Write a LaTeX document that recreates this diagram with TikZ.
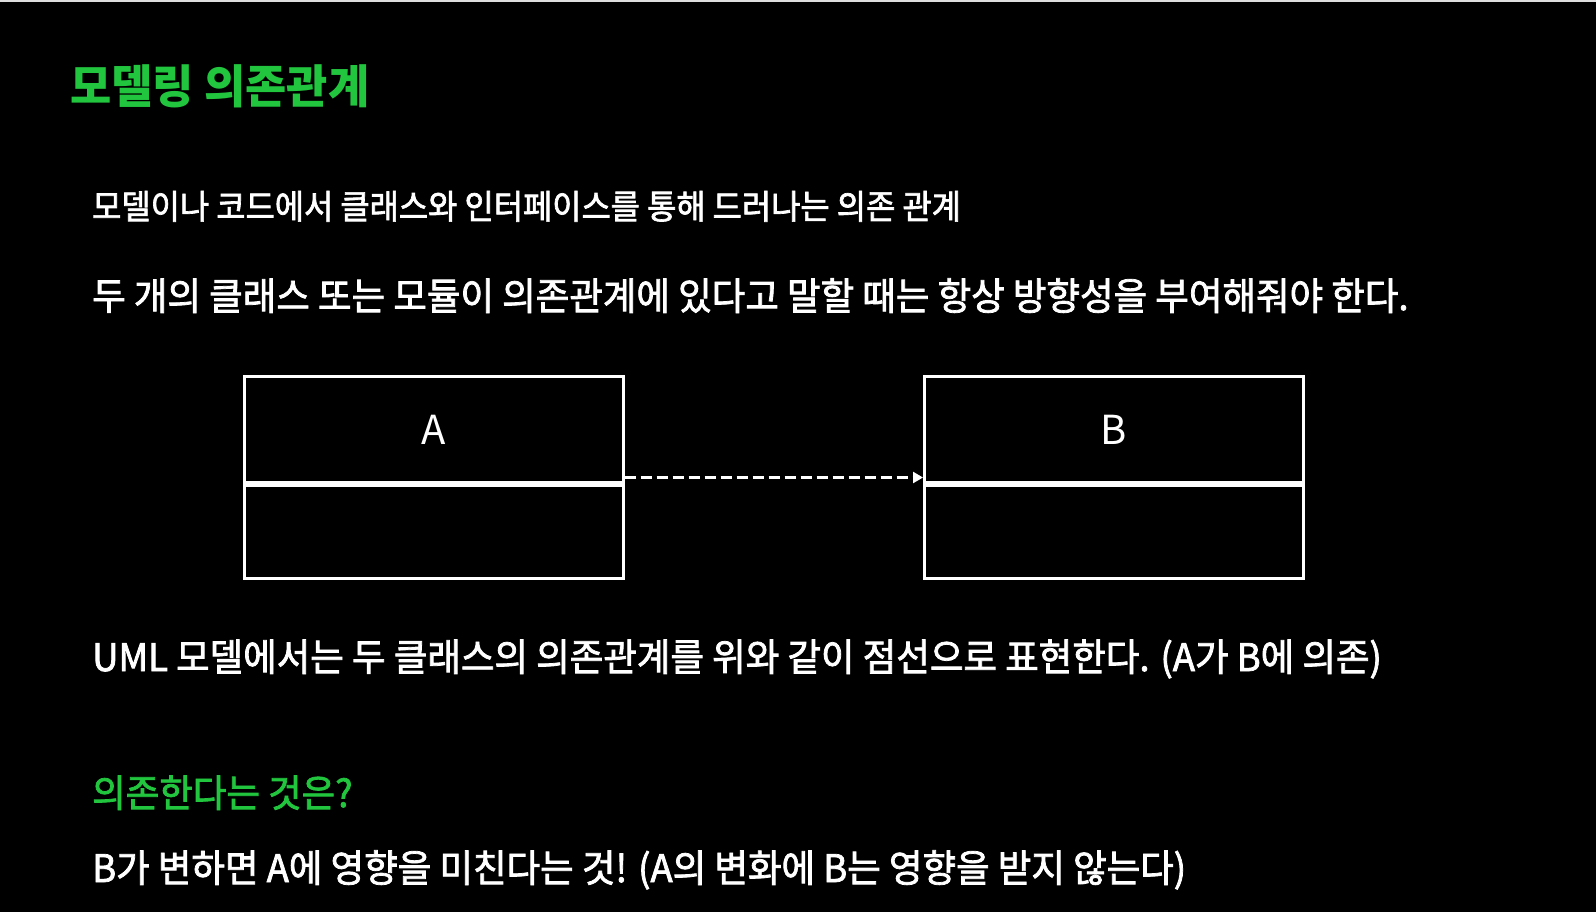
\documentclass[tikz,border=0pt]{standalone}
\usepackage{fontspec}
\setmainfont{Noto Sans CJK KR}
\newfontfamily\bodyfont[FakeStretch=0.96,FakeBold=2]{Noto Sans CJK KR}
\newfontfamily\smallbodyfont[FakeStretch=0.935,FakeBold=2]{Noto Sans CJK KR}
\newfontfamily\titlefont[FakeStretch=0.975]{Noto Sans CJK KR}
\usetikzlibrary{arrows.meta}
\definecolor{slidegreen}{RGB}{34,197,62}
\definecolor{topgray}{RGB}{222,222,222}
\tikzset{
  txt/.style={anchor=base west, inner sep=0pt, text=white},
  classbox/.style={draw=white, line width=3pt, minimum width=379pt, inner sep=0pt, text=white},
  dep/.style={draw=white, line width=3pt, dash pattern=on 11pt off 5pt, -{Triangle[length=10pt,width=11pt]}}
}
\begin{document}
\begin{tikzpicture}[x=1pt,y=-1pt]
\fill[black] (0,0) rectangle (1596,912);
\useasboundingbox (0,0) rectangle (1596,912);
\fill[topgray] (0,0) rectangle (1596,2);

\node[txt, text=slidegreen] (title) at (70,104) {\titlefont\bfseries\fontsize{46pt}{50pt}\selectfont 모델링 의존관계};
\node[txt] (l1) at (92,219) {\smallbodyfont\fontsize{34pt}{40pt}\selectfont 모델이나 코드에서 클래스와 인터페이스를 통해 드러나는 의존 관계};
\node[txt] (l2) at (92,310) {\bodyfont\fontsize{38pt}{44pt}\selectfont 두 개의 클래스 또는 모듈이 의존관계에 있다고 말할 때는 항상 방향성을 부여해줘야 한다.};

\node[classbox, minimum height=106pt] (Atop) at (433.5,429) {};
\node[classbox, minimum height=93pt, anchor=north] (Abot) at (Atop.south) {};
\node[classbox, minimum height=106pt] (Btop) at (1114,429) {};
\node[classbox, minimum height=93pt, anchor=north] (Bbot) at (Btop.south) {};
\node[text=white, inner sep=0pt, font=\fontsize{40pt}{44pt}\selectfont] (Alab) at (433.5,430) {A};
\node[text=white, inner sep=0pt, font=\fontsize{40pt}{44pt}\selectfont] (Blab) at (1114,430) {B};

\draw[dep] ([yshift=6pt]Atop.south east) -- ([yshift=6pt]Btop.south west);

\node[txt] (l3) at (92,671) {\bodyfont\fontsize{38pt}{44pt}\selectfont UML 모델에서는 두 클래스의 의존관계를 위와 같이 점선으로 표현한다. (A가 B에 의존)};
\node[txt, text=slidegreen] (q) at (92,807) {\bodyfont\fontsize{38pt}{44pt}\selectfont 의존한다는 것은?};
\node[txt] (l4) at (92,882) {\bodyfont\fontsize{38pt}{44pt}\selectfont B가 변하면 A에 영향을 미친다는 것! (A의 변화에 B는 영향을 받지 않는다)};
\end{tikzpicture}
\end{document}
